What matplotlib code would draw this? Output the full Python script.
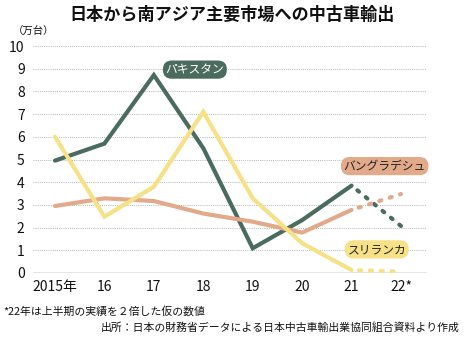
import matplotlib
matplotlib.use("Agg")
import matplotlib.pyplot as plt

plt.rcParams['font.family'] = ['Noto Sans CJK JP', 'DejaVu Sans']

years = ["2015年", "16", "17", "18", "19", "20", "21", "22*"]
pakistan = [4.95, 5.7, 8.72, 5.5, 1.09, 2.33, 3.85, 2.07]
bangladesh = [2.95, 3.29, 3.17, 2.62, 2.26, 1.78, 2.78, 3.48]
srilanka = [6.0, 2.48, 3.8, 7.1, 3.29, 1.31, 0.13, 0.06]

series = [
    ("パキスタン", pakistan, "#4b6b5f", "white", (2.83, 8.96)),
    ("バングラデシュ", bangladesh, "#e2a98a", "#222222", (6.67, 4.71)),
    ("スリランカ", srilanka, "#f6e187", "#222222", (6.51, 1.04)),
]

W, H = 465, 340
fig = plt.figure(figsize=(W / 100, H / 100), dpi=100)
ax = fig.add_axes([33 / W, 1 - 273 / H, (427 - 33) / W, (273 - 46) / H])

x = list(range(len(years)))
for name, vals, col, tcol, (lx, ly) in series:
    ax.plot(x[:7], vals[:7], color=col, lw=3.0, solid_capstyle='round',
            solid_joinstyle='miter', zorder=3)
    ax.plot(x[6:], vals[6:], color=col, lw=3.0, linestyle=(0.8, (0.5, 2.1)),
            dash_capstyle='round', zorder=3)
    ax.text(lx, ly, name, color=tcol, fontsize=8.5, ha='center', va='center',
            zorder=5,
            bbox=dict(boxstyle='round,pad=0.22,rounding_size=0.75',
                      fc=col, ec='none'))

ax.set_xlim(-0.445, 7.526)
ax.set_ylim(0, 10)
ax.set_yticks(range(0, 11))
ax.set_xticks(x)
ax.set_xticklabels(years)
for y in range(1, 11):
    ax.axhline(y, color='#b5b5b5', lw=0.7, linestyle=(0, (1, 1.2)), zorder=1)
ax.axhline(0, color='#777777', lw=1.0, zorder=2)
for s in ax.spines.values():
    s.set_visible(False)
ax.tick_params(axis='both', length=0, labelsize=10, colors='#111111')
ax.tick_params(axis='y', pad=6)
ax.tick_params(axis='x', pad=5)
for lab in ax.get_xticklabels() + ax.get_yticklabels():
    lab.set_fontfamily(['Liberation Sans Narrow', 'Noto Sans CJK JP'])

fig.text(0.5, 1 - 15 / H, "日本から南アジア主要市場への中古車輸出",
         ha='center', va='center', fontsize=12.3, fontweight='bold', color='#111111')
fig.text(13 / W, 1 - 32 / H, "（万台）", ha='left', va='center', fontsize=7.5,
         color='#111111')
fig.text(3 / W, 1 - 311 / H, "*22年は上半期の実績を２倍した仮の数値",
         ha='left', va='center', fontsize=7.8, color='#111111')
fig.text(460 / W, 1 - 327 / H,
         "出所：日本の財務省データによる日本中古車輸出業協同組合資料より作成",
         ha='right', va='center', fontsize=7.8, color='#111111')

fig.savefig("out.png", dpi=100)
